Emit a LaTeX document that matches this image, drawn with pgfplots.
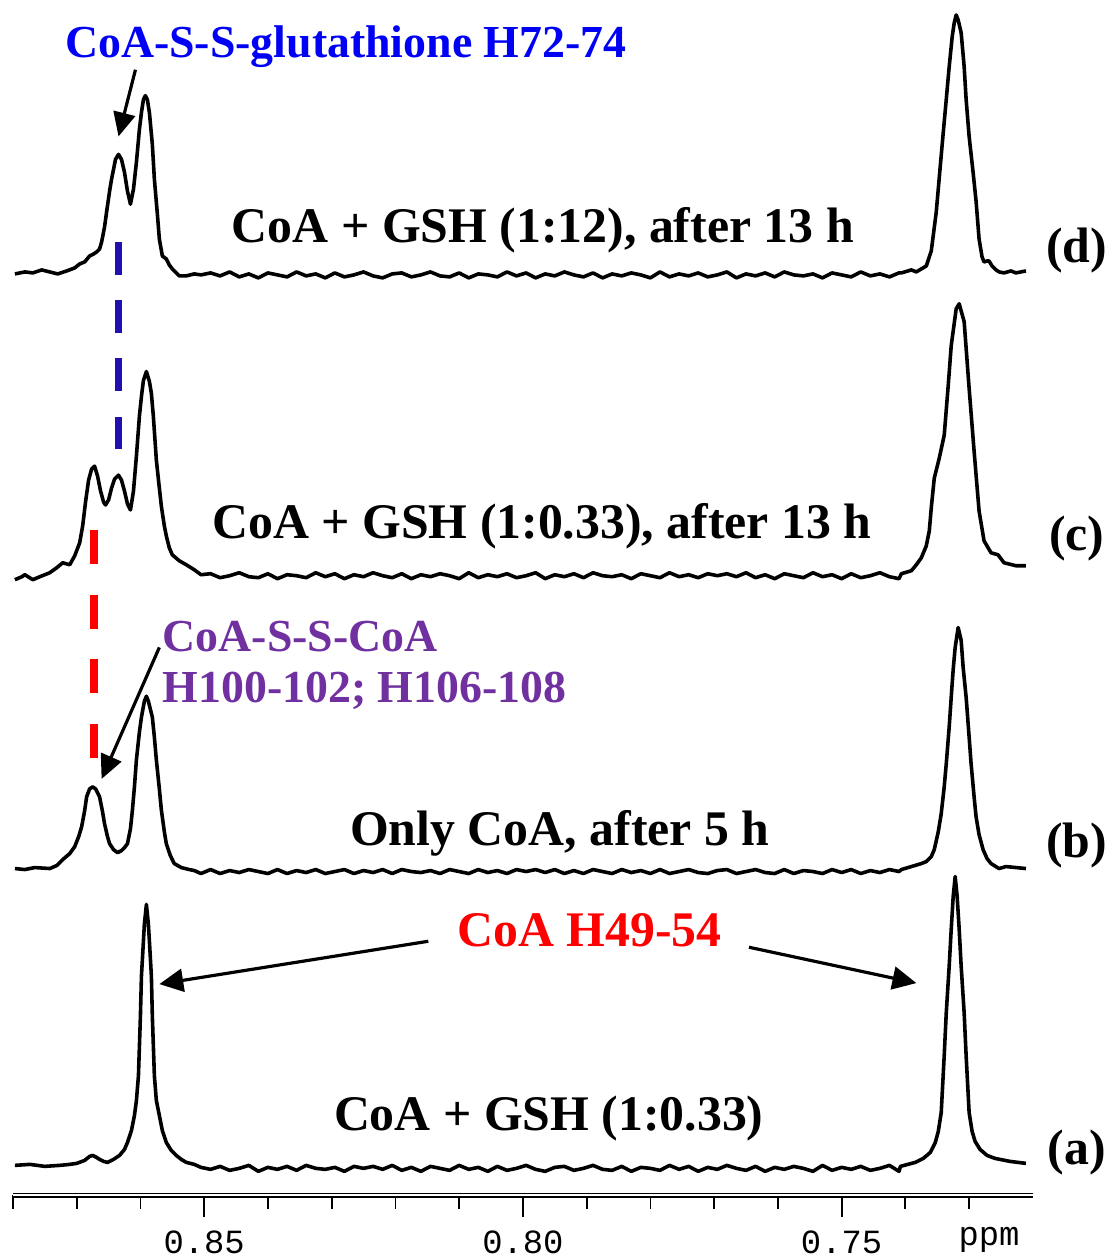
\documentclass[border=0pt]{standalone}
\usepackage{pgfplots}
\pgfplotsset{compat=1.18}
\usepackage{pgfplotstable}
\usetikzlibrary{arrows.meta}
\usepackage{fontspec}
\setmainfont{Liberation Serif}
\newfontfamily\monofont{Liberation Mono}
\definecolor{txtblue}{RGB}{0,0,245}
\definecolor{dashblue}{RGB}{32,16,176}
\definecolor{txtred}{RGB}{255,0,0}
\definecolor{txtpurple}{RGB}{112,48,160}

\pgfplotstableread{
x y
0.87969 925
0.87813 927
0.87688 926
0.87547 929
0.87422 927
0.87297 925
0.87156 928
0.87031 931
0.86953 935
0.86875 937
0.86797 943
0.86734 945
0.86688 947
0.86641 950
0.86609 957
0.86563 972
0.86531 987
0.86484 1008
0.86453 1020
0.86391 1040
0.86344 1045
0.86297 1040
0.86250 1027
0.86203 1008
0.86156 995
0.86109 1010
0.86063 1037
0.86016 1070
0.85984 1087
0.85953 1100
0.85922 1104
0.85891 1100
0.85859 1087
0.85813 1055
0.85781 1020
0.85734 985
0.85703 960
0.85656 943
0.85594 940
0.85547 934
0.85500 930
0.85391 923
0.85281 923
0.85156 925
0.8505 924
0.8490 926
0.8475 923
0.8460 927
0.8445 922
0.8430 925
0.8415 921
0.8400 926
0.8385 924
0.8370 922
0.8355 927
0.8340 923
0.8325 925
0.8310 921
0.8295 926
0.8280 922
0.8265 924
0.8250 927
0.8235 923
0.8220 921
0.8205 925
0.8190 926
0.8175 922
0.8160 924
0.8145 927
0.8130 923
0.8115 922
0.8100 926
0.8085 921
0.8070 925
0.8055 924
0.8040 922
0.8025 927
0.8010 923
0.7995 926
0.7980 921
0.7965 925
0.7950 923
0.7935 927
0.7920 924
0.7905 922
0.7890 926
0.7875 921
0.7860 925
0.7845 923
0.7830 926
0.7815 924
0.7800 921
0.7785 927
0.7770 922
0.7755 925
0.7740 923
0.7725 926
0.7710 922
0.7695 924
0.7680 927
0.7665 921
0.7650 925
0.7635 923
0.7620 926
0.7605 922
0.7590 927
0.7575 924
0.7560 923
0.7545 925
0.7530 921
0.7515 926
0.7500 924
0.7485 922
0.7470 927
0.7455 923
0.7440 925
0.7425 922
0.7410 926
0.74063 926
0.73906 929
0.73828 927
0.73750 930
0.73672 933
0.73594 948
0.73516 987
0.73453 1033
0.73406 1067
0.73359 1100
0.73313 1133
0.73266 1163
0.73234 1177
0.73203 1185
0.73172 1180
0.73125 1167
0.73078 1133
0.73047 1100
0.73000 1063
0.72938 1027
0.72891 998
0.72844 960
0.72797 942
0.72766 937
0.72719 938
0.72688 938
0.72641 933
0.72578 929
0.72531 927
0.72453 926
0.72344 928
0.72266 926
0.72188 927
0.72109 928
}\tabd

\pgfplotstableread{
x y
0.87969 618
0.87859 621
0.87813 623
0.87688 618
0.87578 621
0.87422 625
0.87313 630
0.87219 635
0.87109 633
0.87031 642
0.86953 655
0.86906 672
0.86859 697
0.86813 718
0.86766 729
0.86719 732
0.86672 722
0.86625 707
0.86578 696
0.86547 693
0.86500 698
0.86453 710
0.86406 719
0.86344 723
0.86297 718
0.86250 707
0.86203 694
0.86156 688
0.86109 707
0.86063 742
0.86016 782
0.85984 802
0.85953 818
0.85906 827
0.85859 817
0.85828 805
0.85797 782
0.85750 738
0.85703 710
0.85672 692
0.85625 672
0.85594 662
0.85547 650
0.85500 643
0.85391 637
0.85281 633
0.85156 628
0.8505 623
0.8490 624
0.8475 620
0.8460 622
0.8445 625
0.8430 621
0.8415 620
0.8400 624
0.8385 619
0.8370 623
0.8355 622
0.8340 620
0.8325 625
0.8310 621
0.8295 624
0.8280 619
0.8265 623
0.8250 621
0.8235 625
0.8220 622
0.8205 620
0.8190 624
0.8175 619
0.8160 623
0.8145 621
0.8130 624
0.8115 622
0.8100 619
0.8085 625
0.8070 620
0.8055 623
0.8040 621
0.8025 624
0.8010 620
0.7995 622
0.7980 625
0.7965 619
0.7950 623
0.7935 621
0.7920 624
0.7905 620
0.7890 625
0.7875 622
0.7860 621
0.7845 623
0.7830 619
0.7815 624
0.7800 622
0.7785 620
0.7770 625
0.7755 621
0.7740 623
0.7725 620
0.7710 624
0.7695 622
0.7680 624
0.7665 621
0.7650 625
0.7635 620
0.7620 623
0.7605 619
0.7590 624
0.7575 622
0.7560 620
0.7545 625
0.7530 621
0.7515 623
0.7500 619
0.7485 624
0.7470 620
0.7455 622
0.7440 625
0.7425 621
0.7410 619
0.74063 624
0.73906 627
0.73828 633
0.73750 640
0.73672 652
0.73625 667
0.73594 690
0.73547 720
0.73469 740
0.73391 763
0.73328 813
0.73281 853
0.73203 890
0.73156 895
0.73078 877
0.73000 810
0.72922 747
0.72844 687
0.72766 657
0.72656 645
0.72547 643
0.72453 635
0.72266 632
0.72109 632
}\tabc

\pgfplotstableread{
x y
0.87969 328
0.87813 327
0.87656 329
0.87422 328
0.87313 331
0.87219 337
0.87109 343
0.87031 350
0.86969 360
0.86922 370
0.86875 386
0.86844 400
0.86797 408
0.86750 410
0.86703 408
0.86641 400
0.86594 385
0.86563 373
0.86516 360
0.86484 353
0.86422 347
0.86359 344
0.86297 346
0.86250 349
0.86203 353
0.86156 368
0.86125 387
0.86094 410
0.86063 437
0.86016 465
0.85984 480
0.85938 496
0.85906 501
0.85875 496
0.85844 488
0.85813 480
0.85781 460
0.85750 437
0.85703 408
0.85672 387
0.85625 365
0.85594 353
0.85531 341
0.85469 333
0.85359 329
0.85234 327
0.85156 326
0.8505 323
0.8490 327
0.8475 323
0.8460 326
0.8445 324
0.8430 327
0.8415 325
0.8400 323
0.8385 327
0.8370 323
0.8355 326
0.8340 324
0.8325 327
0.8310 323
0.8295 325
0.8280 327
0.8265 323
0.8250 326
0.8235 324
0.8220 327
0.8205 323
0.8190 327
0.8175 325
0.8160 324
0.8145 326
0.8130 323
0.8115 327
0.8100 325
0.8085 323
0.8070 327
0.8055 324
0.8040 326
0.8025 323
0.8010 327
0.7995 325
0.7980 327
0.7965 324
0.7950 327
0.7935 323
0.7920 326
0.7905 323
0.7890 327
0.7875 325
0.7860 323
0.7845 327
0.7830 324
0.7815 326
0.7800 323
0.7785 327
0.7770 323
0.7755 325
0.7740 327
0.7725 324
0.7710 323
0.7695 326
0.7680 327
0.7665 323
0.7650 325
0.7635 327
0.7620 324
0.7605 323
0.7590 327
0.7575 323
0.7560 326
0.7545 325
0.7530 323
0.7515 327
0.7500 324
0.7485 327
0.7470 323
0.7455 326
0.7440 324
0.7425 327
0.7410 325
0.74063 327
0.73906 330
0.73750 333
0.73672 335
0.73594 340
0.73547 347
0.73484 365
0.73438 383
0.73391 410
0.73359 433
0.73313 470
0.73281 500
0.73250 528
0.73219 550
0.73172 570
0.73125 557
0.73094 530
0.73047 500
0.73000 460
0.72969 433
0.72922 400
0.72891 380
0.72844 362
0.72781 347
0.72719 338
0.72656 333
0.72531 328
0.72422 330
0.72266 329
0.72109 328
}\tabb

\pgfplotstableread{
x y
0.87969 30
0.87734 31
0.87500 29
0.87266 30
0.87109 31
0.87000 32
0.86875 35
0.86797 39
0.86750 40
0.86688 38
0.86641 36
0.86578 34
0.86516 33
0.86422 36
0.86328 40
0.86250 46
0.86203 53
0.86141 65
0.86094 80
0.86063 95
0.86031 120
0.86000 180
0.85984 220
0.85953 255
0.85938 272
0.85906 292
0.85875 272
0.85859 255
0.85828 220
0.85813 180
0.85781 120
0.85750 95
0.85703 80
0.85656 65
0.85594 53
0.85516 45
0.85438 40
0.85359 36
0.85281 33
0.85156 31
0.8505 28
0.8490 26
0.8475 29
0.8460 25
0.8445 27
0.8430 30
0.8415 24
0.8400 28
0.8385 26
0.8370 29
0.8355 25
0.8340 30
0.8325 27
0.8310 26
0.8295 28
0.8280 24
0.8265 29
0.8250 27
0.8235 29
0.8220 26
0.8205 30
0.8190 25
0.8175 28
0.8160 24
0.8145 29
0.8130 27
0.8115 25
0.8100 30
0.8085 26
0.8070 28
0.8055 24
0.8040 29
0.8025 25
0.8010 27
0.7995 30
0.7980 26
0.7965 24
0.7950 28
0.7935 29
0.7920 25
0.7905 27
0.7890 30
0.7875 26
0.7860 25
0.7845 29
0.7830 24
0.7815 28
0.7800 27
0.7785 25
0.7770 30
0.7755 26
0.7740 29
0.7725 24
0.7710 28
0.7695 26
0.7680 30
0.7665 27
0.7650 25
0.7635 29
0.7620 24
0.7605 28
0.7590 26
0.7575 29
0.7560 27
0.7545 24
0.7530 30
0.7515 25
0.7500 28
0.7485 26
0.7470 29
0.7455 25
0.7440 27
0.7425 30
0.7410 24
0.74078 29
0.73844 33
0.73719 37
0.73609 43
0.73531 53
0.73484 64
0.73438 83
0.73391 140
0.73359 183
0.73313 230
0.73281 267
0.73250 300
0.73219 320
0.73188 300
0.73156 267
0.73125 230
0.73078 183
0.73047 140
0.73000 83
0.72953 64
0.72906 54
0.72828 46
0.72719 40
0.72594 37
0.72359 34
0.72109 32
}\taba

\begin{document}
\begin{tikzpicture}
\begin{axis}[
  scale only axis, width=512pt, height=600pt,
  xmin=0.72, xmax=0.88, ymin=0, ymax=1200,
  x dir=reverse,
  axis x line=bottom, axis y line=none,
  x axis line style={-, line width=0.7pt, double distance=0.9pt},
  xtick={0.85,0.80,0.75}, xticklabels={0.85,0.80,0.75},
  minor xtick={0.88,0.87,0.86,0.84,0.83,0.82,0.81,0.79,0.78,0.77,0.76,0.74,0.73},
  tick align=outside, major tick length=11pt, minor tick length=7pt,
  every tick/.style={black, line width=0.9pt},
  xticklabel style={font=\monofont\fontsize{17}{17}\selectfont, anchor=base, yshift=-18pt},
  clip=false,
]
\path (axis cs:0.88203,-60) rectangle (axis cs:0.70781,1200);
\addplot[black, line width=1.8pt, line join=round] table[x=x,y=y] {\tabd};
\addplot[black, line width=1.8pt, line join=round] table[x=x,y=y] {\tabc};
\addplot[black, line width=1.8pt, line join=round] table[x=x,y=y] {\tabb};
\addplot[black, line width=1.8pt, line join=round] table[x=x,y=y] {\taba};

\draw[dashblue, line width=4pt, dash pattern=on 16.5pt off 12.7pt] (axis cs:0.86344,957) -- (axis cs:0.86344,748);
\draw[txtred, line width=4pt, dash pattern=on 17pt off 15.5pt] (axis cs:0.86734,668) -- (axis cs:0.86734,439);

\draw[line width=1.6pt, -{Triangle[length=12pt,width=11pt]}] (axis cs:0.86078,1130) -- (axis cs:0.86344,1063);
\draw[line width=1.6pt, -{Triangle[length=12pt,width=11pt]}] (axis cs:0.85703,550) -- (axis cs:0.86609,418);
\draw[line width=1.6pt, -{Triangle[length=12pt,width=11.5pt]}] (axis cs:0.81484,255) -- (axis cs:0.85703,212);
\draw[line width=1.6pt, -{Triangle[length=12pt,width=11.5pt]}] (axis cs:0.76453,249) -- (axis cs:0.73828,213);

\node[anchor=base west, inner sep=0pt, text=txtblue, font=\bfseries\fontsize{23}{28}\selectfont] at (axis cs:0.87187,1142) {CoA-S-S-glutathione H72-74};
\node[anchor=base west, inner sep=0pt, text=txtpurple, font=\bfseries\fontsize{23}{28}\selectfont] at (axis cs:0.85656,546) {CoA-S-S-CoA};
\node[anchor=base west, inner sep=0pt, text=txtpurple, font=\bfseries\fontsize{23}{28}\selectfont] at (axis cs:0.85656,495) {H100-102; H106-108};
\node[anchor=base, inner sep=0pt, text=txtred, font=\bfseries\fontsize{25}{30}\selectfont] at (axis cs:0.78953,250) {CoA H49-54};

\node[anchor=base, inner sep=0pt, font=\bfseries\fontsize{25}{30}\selectfont] at (axis cs:0.79687,957) {CoA + GSH (1:12), after 13 h};
\node[anchor=base, inner sep=0pt, font=\bfseries\fontsize{25}{30}\selectfont] at (axis cs:0.79703,659) {CoA + GSH (1:0.33), after 13 h};
\node[anchor=base, inner sep=0pt, font=\bfseries\fontsize{25}{30}\selectfont] at (axis cs:0.79422,351) {Only CoA, after 5 h};
\node[anchor=base, inner sep=0pt, font=\bfseries\fontsize{25}{30}\selectfont] at (axis cs:0.79594,65) {CoA + GSH (1:0.33)};

\node[anchor=base, inner sep=0pt, font=\bfseries\fontsize{25}{30}\selectfont] at (axis cs:0.71313,936) {(d)};
\node[anchor=base, inner sep=0pt, font=\bfseries\fontsize{25}{30}\selectfont] at (axis cs:0.71313,647) {(c)};
\node[anchor=base, inner sep=0pt, font=\bfseries\fontsize{25}{30}\selectfont] at (axis cs:0.71313,339) {(b)};
\node[anchor=base, inner sep=0pt, font=\bfseries\fontsize{25}{30}\selectfont] at (axis cs:0.71313,31) {(a)};

\node[anchor=base, inner sep=0pt, font=\monofont\fontsize{17}{17}\selectfont] at (axis cs:0.72688,-50) {ppm};
\end{axis}
\end{tikzpicture}
\end{document}
